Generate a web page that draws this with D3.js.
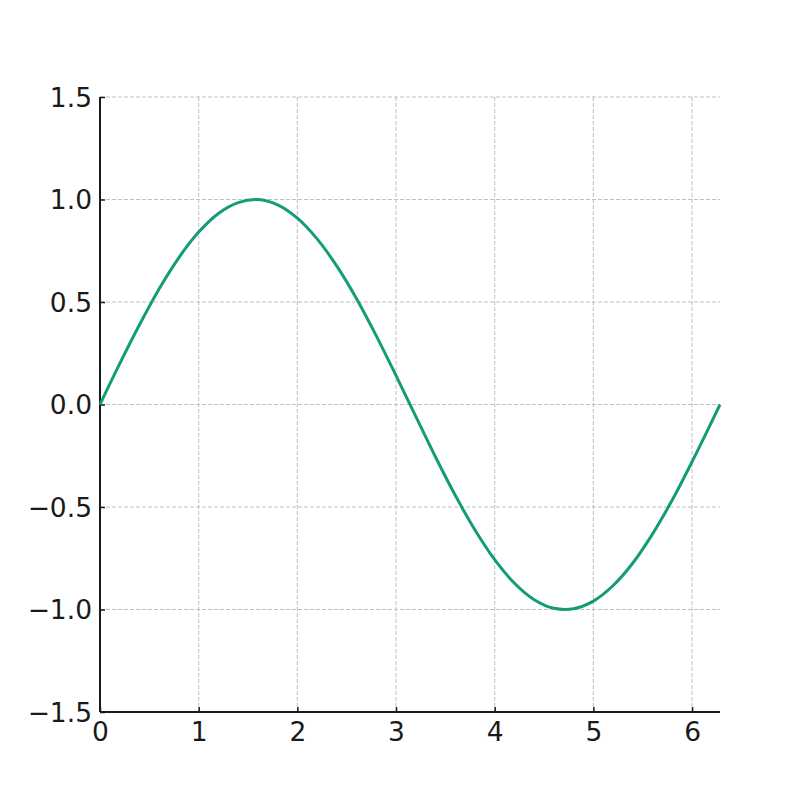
<!DOCTYPE html>
<html><head><meta charset="utf-8">
<script src="https://cdn.jsdelivr.net/npm/d3@7"></script>
<style>body{margin:0;background:#fff}svg{display:block}</style>
</head><body>
<svg id="c" width="800" height="800"></svg>
<script>
const xValues = [0,0.2,0.4,0.6,0.8,1.0,1.2,1.4,1.6,1.8,2.0,2.2,2.4,2.6,2.8,3.0,3.2,3.4,3.6,3.8,4.0,4.2,4.4,4.6,4.8,5.0,5.2,5.4,5.6,5.8,6.0,6.2,6.283];
const yValues = [0,0.199,0.389,0.565,0.717,0.841,0.932,0.985,1.0,0.974,0.909,0.808,0.675,0.516,0.335,0.141,-0.058,-0.256,-0.443,-0.612,-0.757,-0.872,-0.952,-0.994,-0.996,-0.959,-0.883,-0.773,-0.631,-0.465,-0.279,-0.083,0];
const xTicks = [0,1,2,3,4,5,6];
const yTicks = [-1.5,-1.0,-0.5,0.0,0.5,1.0,1.5];

const svg = d3.select("#c");
const m = {l:100, r:720, t:97, b:712};
const x = d3.scaleLinear().domain([0, 6.283]).range([m.l, m.r]);
const y = d3.scaleLinear().domain([-1.5, 1.5]).range([m.b, m.t]);
const font = "DejaVu Sans";
const fmtY = v => (v<0?"\u2212":"") + Math.abs(v).toFixed(1);

// grid
svg.append("g").selectAll("line").data(xTicks).join("line")
  .attr("x1", d=>x(d)).attr("x2", d=>x(d)).attr("y1", m.t).attr("y2", m.b)
  .attr("stroke", "#bfbfbf").attr("stroke-width", 1).attr("stroke-dasharray", "4,2");
svg.append("g").selectAll("line").data(yTicks).join("line")
  .attr("x1", m.l).attr("x2", m.r).attr("y1", d=>y(d)).attr("y2", d=>y(d))
  .attr("stroke", "#bfbfbf").attr("stroke-width", 1).attr("stroke-dasharray", "4,2");

// axes
const xa = svg.append("g").attr("transform", `translate(0,${m.b})`)
  .call(d3.axisBottom(x).tickValues(xTicks).tickSize(-5).tickPadding(10).tickFormat(d3.format("d")));
const ya = svg.append("g").attr("transform", `translate(${m.l},0)`)
  .call(d3.axisLeft(y).tickValues(yTicks).tickSize(-5).tickPadding(8).tickFormat(fmtY));
[xa, ya].forEach(a => {
  a.select(".domain").attr("stroke", "#1a1a1a").attr("stroke-width", 2);
  a.selectAll(".tick line").attr("stroke", "#1a1a1a").attr("stroke-width", 1.5);
  a.selectAll("text").attr("font-family", font).attr("font-size", 26.5).attr("fill", "#1a1a1a");
});
xa.selectAll("text").attr("dy", "0.71em");
ya.selectAll("text").attr("dy", "0.35em");
xa.select(".domain").attr("d", `M${m.l},0H${m.r}`);
ya.select(".domain").attr("d", `M0,${m.b}V${m.t}`);

// line
const pts = xValues.map((v,i)=>[v, yValues[i]]);
svg.append("path").datum(pts)
  .attr("fill","none").attr("stroke","#149c78").attr("stroke-width",3)
  .attr("d", d3.line().x(d=>x(d[0])).y(d=>y(d[1])).curve(d3.curveCatmullRom));
</script>
</body></html>
